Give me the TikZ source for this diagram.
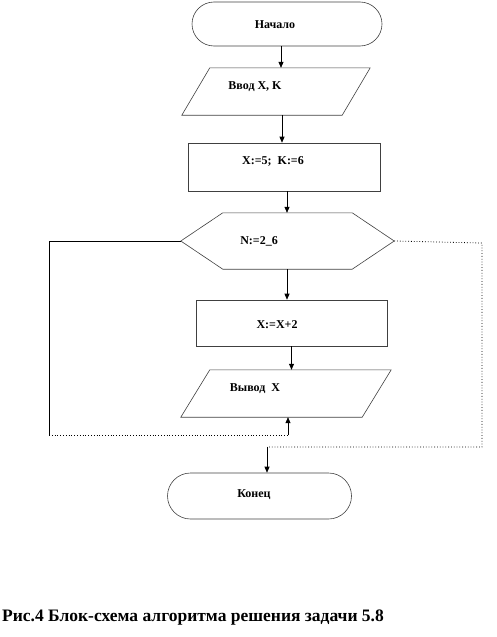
\documentclass[tikz,border=0pt]{standalone}
\usepackage{fontspec}
\setmainfont{Liberation Serif}[BoldFont={Liberation Serif Bold}]
\usetikzlibrary{shapes.misc,arrows.meta}
\begin{document}
\begin{tikzpicture}[x=1pt,y=-1pt,
  shp/.style={draw=black!75, line width=0.6pt},
  box/.style={draw=none, inner sep=0pt},
  lbl/.style={font=\fontsize{12}{14}\selectfont\bfseries, inner sep=0pt},
  arr/.style={-{Triangle[length=6pt,width=5pt]}, line width=0.7pt},
  solidline/.style={line width=0.7pt},
  dotline/.style={dotted, line width=0.8pt}]
\useasboundingbox (0,0) rectangle (496,637);
% shapes
\node[shp, rounded rectangle, minimum width=190, minimum height=44, inner sep=0pt] (start) at (287,24) {};
\node[box, minimum width=160, minimum height=47] (in) at (276,91.5) {};
\draw[shp] ([xshift=14]in.north west) -- ([xshift=14]in.north east) -- ([xshift=-14]in.south east) -- ([xshift=-14]in.south west) -- cycle;
\node[shp, rectangle, minimum width=192, minimum height=48, inner sep=0pt] (r1) at (284,167) {};
\node[box, minimum width=213, minimum height=56] (hex) at (287.5,241) {};
\draw[shp] (hex.west) -- ([xshift=42]hex.north west) -- ([xshift=-42]hex.north east) -- (hex.east) -- ([xshift=-42]hex.south east) -- ([xshift=42]hex.south west) -- cycle;
\node[shp, rectangle, minimum width=191, minimum height=46, inner sep=0pt] (r2) at (291.5,323) {};
\node[box, minimum width=181, minimum height=47] (out) at (286,393.5) {};
\draw[shp] ([xshift=14.5]out.north west) -- ([xshift=14.5]out.north east) -- ([xshift=-14.5]out.south east) -- ([xshift=-14.5]out.south west) -- cycle;
\node[shp, rounded rectangle, minimum width=184, minimum height=46, inner sep=0pt] (end) at (259.5,496) {};
% labels
\node[lbl] (tstart) at (275,25) {Начало};
\node[lbl] (tin) at (255,87) {Ввод X, K};
\node[lbl] (tr1) at (273,161) {X:=5;\ \ K:=6};
\node[lbl] (thex) at (259,241) {N:=2\_6};
\node[lbl] (tr2) at (277,325) {X:=X+2};
\node[lbl] (tout) at (255,389) {Вывод\ \ X};
\node[lbl] (tend) at (254,495) {Конец};
% connectors
\draw[arr] ([xshift=-6]start.south) -- ([xshift=-6]start.south |- in.north);
\draw[arr] ([xshift=6]in.south) -- ([xshift=6]in.south |- r1.north);
\draw[arr] ([xshift=3]r1.south) -- ([xshift=3]r1.south |- hex.north);
\draw[arr] ([xshift=-0.5]hex.south) -- ([xshift=-0.5]hex.south |- r2.north);
\draw[arr] (r2.south) -- (r2.south |- out.north);
% left loop
\coordinate (L1) at (49,241);
\coordinate (L2) at (49,435);
\coordinate (L3) at (288,435);
\draw[solidline] (hex.west) -- (L1) -- (L2);
\draw[dotline] (L2) -- (L3);
\draw[arr] (L3) -- (L3 |- out.south);
% right loop
\coordinate (R1) at (482,243);
\coordinate (R2) at (482,447);
\coordinate (R3) at (267,447);
\draw[dotline] (hex.east) -- (R1) -- (R2) -- (R3);
\draw[arr] (R3) -- (R3 |- end.north);
% caption
\node[anchor=west, inner sep=0pt, font=\fontsize{17.5}{20}\selectfont\bfseries] (cap) at (2,618) {Рис.4 Блок-схема алгоритма решения задачи 5.8};
\end{tikzpicture}
\end{document}
